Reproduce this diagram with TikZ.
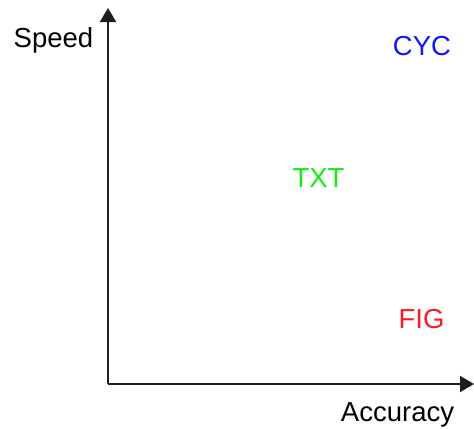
\documentclass[tikz,border=0pt]{standalone}
\usepackage{fontspec}
\setmainfont{Liberation Sans}
\usetikzlibrary{arrows.meta}
\begin{document}
\begin{tikzpicture}[x=1bp,y=-1bp,
  axis/.style={line width=2bp,draw={rgb,255:red,30;green,30;blue,30},-{Triangle[length=14bp,width=16bp]}},
  lbl/.style={anchor=base,inner sep=0pt,font=\fontsize{27.5bp}{32bp}\selectfont}]
\useasboundingbox (0,0) rectangle (474,428);
\coordinate (o) at (108,384);
\coordinate (ytop) at (108,8);
\coordinate (xend) at (474,384);
\draw[axis] (o) -- (ytop);
\draw[axis] (o) -- (xend);
\node[lbl] (speed) at (53.5,47) {Speed};
\node[lbl] (acc) at (397.5,421) {Accuracy};
\node[lbl,text={rgb,255:red,20;green,20;blue,255}] (cyc) at (422,55) {CYC};
\node[lbl,text={rgb,255:red,20;green,235;blue,20}] (txt) at (318.5,187) {TXT};
\node[lbl,text={rgb,255:red,245;green,30;blue,40}] (fig) at (421.5,328) {FIG};
\end{tikzpicture}
\end{document}
